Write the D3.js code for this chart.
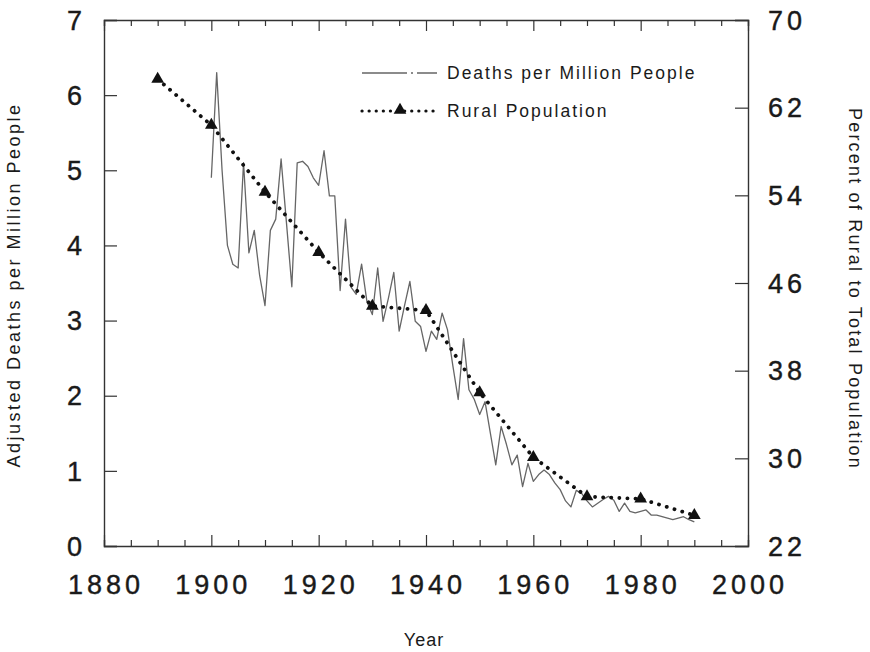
<!DOCTYPE html>
<meta charset="utf-8">
<script src="https://d3js.org/d3.v7.min.js"></script>
<style>
  body { margin: 0; background: #fff; }
  text { font-family: "Liberation Sans", Arial, sans-serif; fill: #1a1a1a; }
</style>
<div id="chart"></div>
<script>

    // deaths per million people, one value a year from 1900 to 1990
    const deathYears = d3.range(1900, 1991);
    const deathRates = [
        4.9, 6.3, 5.0, 4.0, 3.75, 3.7, 5.1, 3.9, 4.2, 3.6,
        3.2, 4.2, 4.35, 5.15, 4.3, 3.45, 5.1, 5.12, 5.05, 4.9,
        4.8, 5.26, 4.66, 4.66, 3.4, 4.35, 3.45, 3.35, 3.75, 3.25,
        3.08, 3.7, 2.99, 3.3, 3.64, 2.86, 3.2, 3.52, 2.99, 2.92,
        2.59, 2.86, 2.75, 3.1, 2.88, 2.4, 1.95, 2.76, 2.08, 1.95,
        1.75, 1.92, 1.5, 1.08, 1.59, 1.35, 1.08, 1.21, 0.79, 1.1,
        0.86, 0.95, 1.01, 0.95, 0.84, 0.75, 0.6, 0.52, 0.74, 0.7,
        0.6, 0.52, 0.57, 0.62, 0.66, 0.61, 0.46, 0.57, 0.46, 0.44,
        0.46, 0.48, 0.41, 0.41, 0.39, 0.37, 0.35, 0.37, 0.39, 0.35,
        0.32
    ];

    // census years and percent of population living in rural areas
    const censusYears = [1890, 1900, 1910, 1920, 1930, 1940, 1950, 1960, 1970, 1980, 1990];
    const ruralPercent = [64.6, 60.4, 54.3, 48.8, 43.9, 43.5, 36.0, 30.1, 26.5, 26.3, 24.8];

    const yearTicks = [1880, 1900, 1920, 1940, 1960, 1980, 2000];
    const deathTicks = [0, 1, 2, 3, 4, 5, 6, 7];
    const ruralTicks = [22, 30, 38, 46, 54, 62, 70];

    const W = 870, H = 652;
    const margin = { top: 20, right: 122, bottom: 106, left: 104 },
        width = W - margin.left - margin.right,
        height = H - margin.top - margin.bottom;

    const svg = d3.select("#chart")
        .append("svg")
        .attr("width", W)
        .attr("height", H);

    const g = svg.append("g")
        .attr("transform", `translate(${margin.left},${margin.top})`);

    const x = d3.scaleLinear().domain([1880, 2000]).range([0, width]);
    const yL = d3.scaleLinear().domain([0, 7]).range([height, 0]);
    const yR = d3.scaleLinear().domain([22, 70]).range([height, 0]);

    const axisColor = "#333";
    const minorYears = d3.range(1880, 2001, 5);

    // bottom axis, ticks pointing inward
    const bottomAxis = g.append("g")
        .attr("transform", `translate(0,${height})`)
        .call(d3.axisTop(x).tickValues(minorYears)
            .tickSize(6).tickFormat(""));
    bottomAxis.selectAll(".tick line")
        .filter(d => d % 20 === 0)
        .attr("y2", -11);

    // top axis, ticks pointing down
    const topAxis = g.append("g")
        .call(d3.axisBottom(x).tickValues(minorYears)
            .tickSize(6).tickFormat(""));
    topAxis.selectAll(".tick line")
        .filter(d => d % 20 === 0)
        .attr("y2", 11);

    // left axis, ticks pointing right
    g.append("g")
        .call(d3.axisRight(yL).tickValues(deathTicks)
            .tickSize(13).tickFormat(""));

    // right axis, ticks pointing left
    g.append("g")
        .attr("transform", `translate(${width},0)`)
        .call(d3.axisLeft(yR).tickValues(ruralTicks)
            .tickSize(13).tickFormat(""));

    g.selectAll(".domain").attr("stroke", axisColor).attr("stroke-width", 1.4);
    g.selectAll(".tick line").attr("stroke", axisColor).attr("stroke-width", 1.2);

    // tick labels
    const labelStyle = sel => sel
        .style("font-size", "27px")
        .style("letter-spacing", "4px")
        .style("stroke", "#1a1a1a")
        .style("stroke-width", "0.4px");

    g.selectAll(".xlab")
        .data(yearTicks)
        .join("text")
        .attr("class", "xlab")
        .attr("x", d => x(d) + 2)
        .attr("y", height + 48)
        .attr("text-anchor", "middle")
        .text(d => d)
        .call(labelStyle);

    g.selectAll(".ylab")
        .data(deathTicks)
        .join("text")
        .attr("class", "ylab")
        .attr("x", -18)
        .attr("y", d => yL(d))
        .attr("dy", "0.36em")
        .attr("text-anchor", "end")
        .text(d => d)
        .call(labelStyle);

    g.selectAll(".rlab")
        .data(ruralTicks)
        .join("text")
        .attr("class", "rlab")
        .attr("x", width + 20)
        .attr("y", d => yR(d))
        .attr("dy", "0.36em")
        .attr("text-anchor", "start")
        .text(d => d)
        .call(labelStyle);

    // axis titles
    g.append("text")
        .attr("x", width / 2 - 2)
        .attr("y", height + 100)
        .attr("text-anchor", "middle")
        .style("font-size", "18px")
        .style("letter-spacing", "1px")
        .text("Year");

    g.append("text")
        .attr("transform", `translate(${-84},${height / 2 + 2}) rotate(-90)`)
        .attr("text-anchor", "middle")
        .style("font-size", "18px")
        .style("letter-spacing", "2.5px")
        .text("Adjusted Deaths per Million People");

    g.append("text")
        .attr("transform", `translate(${width + 101},${height / 2 + 6}) rotate(90)`)
        .attr("text-anchor", "middle")
        .style("font-size", "18px")
        .style("letter-spacing", "2.2px")
        .text("Percent of Rural to Total Population");

    // deaths line
    const deathLine = d3.line()
        .x((d, i) => x(deathYears[i]))
        .y(d => yL(d));

    g.append("path")
        .datum(deathRates)
        .attr("fill", "none")
        .attr("stroke", "#666")
        .attr("stroke-width", 1.3)
        .attr("stroke-linejoin", "round")
        .attr("d", deathLine);

    // rural population, dotted line with triangles
    const ruralLine = d3.line()
        .x((d, i) => x(censusYears[i]))
        .y(d => yR(d));

    g.append("path")
        .datum(ruralPercent)
        .attr("fill", "none")
        .attr("stroke", "#111")
        .attr("stroke-width", 3.8)
        .attr("stroke-linecap", "round")
        .attr("stroke-dasharray", "0.1,8")
        .attr("d", ruralLine);

    const tri = d3.symbol().type(d3.symbolTriangle).size(70);

    g.selectAll(".tri")
        .data(ruralPercent)
        .join("path")
        .attr("class", "tri")
        .attr("transform", (d, i) => `translate(${x(censusYears[i])},${yR(d)})`)
        .attr("d", tri)
        .attr("fill", "#111");

    // legend
    const leg = g.append("g").attr("transform", `translate(${362 - margin.left},${73 - margin.top})`);

    leg.append("line")
        .attr("x1", 0).attr("x2", 75)
        .attr("stroke", "#666")
        .attr("stroke-width", 1.3)
        .attr("stroke-dasharray", "45,4,2,4,40");

    leg.append("text")
        .attr("x", 85)
        .attr("dy", "0.36em")
        .style("font-size", "17.5px")
        .style("letter-spacing", "2px")
        .text("Deaths per Million People");

    leg.append("line")
        .attr("x1", 0).attr("x2", 75)
        .attr("y1", 38).attr("y2", 38)
        .attr("stroke", "#111")
        .attr("stroke-width", 3.2)
        .attr("stroke-linecap", "round")
        .attr("stroke-dasharray", "0.1,7");

    leg.append("path")
        .attr("transform", "translate(38,37)")
        .attr("d", tri)
        .attr("fill", "#111");

    leg.append("text")
        .attr("x", 85)
        .attr("y", 38)
        .attr("dy", "0.36em")
        .style("font-size", "17.5px")
        .style("letter-spacing", "2px")
        .text("Rural Population");

</script>
